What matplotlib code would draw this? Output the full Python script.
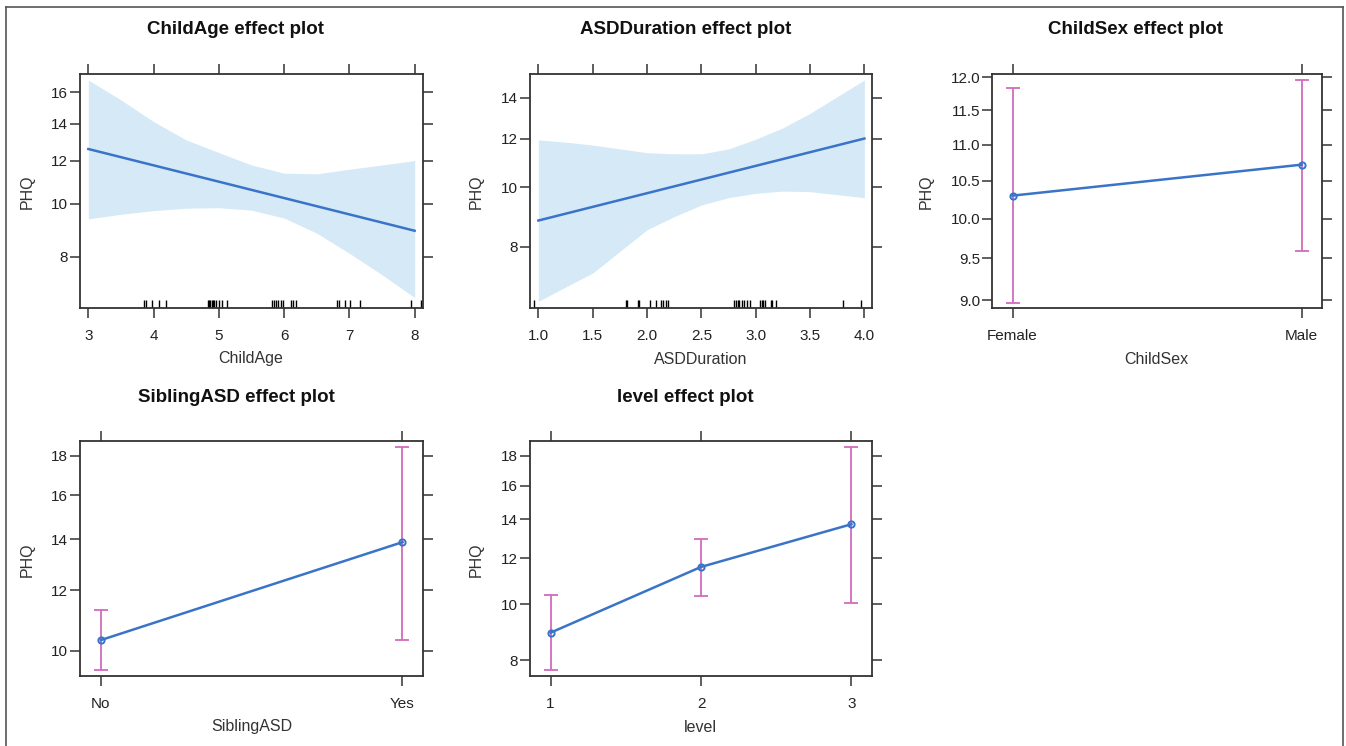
import matplotlib
matplotlib.use('Agg')
import matplotlib.pyplot as plt
from matplotlib.ticker import FixedLocator, FixedFormatter, NullLocator
from matplotlib.lines import Line2D

plt.rcParams['font.family'] = ['Liberation Sans', 'DejaVu Sans']

# ---------------- data ----------------
# ChildAge effect
age_x = [3.0, 3.5, 4.0, 4.5, 5.0, 5.5, 6.0, 6.5, 7.0, 7.5, 8.0]
age_upper = [16.85, 15.49, 14.14, 13.09, 12.41, 11.78, 11.38, 11.35, 11.57, 11.78, 12.0]
age_lower = [9.39, 9.57, 9.72, 9.82, 9.84, 9.74, 9.42, 8.84, 8.12, 7.42, 6.74]
age_fit_x = [3.0, 8.0]
age_fit = [12.6, 8.93]
age_rug = [3.85, 3.88, 3.98, 4.09, 4.19, 4.83, 4.85, 4.87, 4.89, 4.91, 4.93,
           4.96, 5.0, 5.05, 5.12, 5.81, 5.84, 5.88, 5.91, 5.95, 5.98,
           6.10, 6.14, 6.18, 6.81, 6.84, 6.94, 7.01, 7.16, 7.94, 8.10]

# ASDDuration effect
dur_x = [1.0, 1.25, 1.5, 2.0, 2.25, 2.5, 2.75, 3.0, 3.25, 3.5, 4.0]
dur_upper = [11.95, 11.85, 11.72, 11.39, 11.34, 11.34, 11.55, 11.98, 12.5, 13.2, 14.96]
dur_lower = [6.52, 6.88, 7.25, 8.53, 8.96, 9.36, 9.62, 9.78, 9.86, 9.84, 9.62]
dur_fit_x = [1.0, 4.0]
dur_fit = [8.83, 12.01]
dur_rug = [0.96, 1.81, 1.82, 1.92, 1.93, 2.03, 2.08, 2.13, 2.15, 2.17, 2.19,
           2.80, 2.82, 2.84, 2.85, 2.87, 2.89, 2.92, 2.95,
           3.04, 3.06, 3.07, 3.09, 3.14, 3.15, 3.19, 3.80, 3.97]

# ChildSex effect
sex_cats = ['Female', 'Male']
sex_fit = [10.30, 10.72]
sex_lower = [8.97, 9.59]
sex_upper = [11.83, 11.96]

# SiblingASD effect
sib_cats = ['No', 'Yes']
sib_fit = [10.33, 13.88]
sib_lower = [9.43, 10.32]
sib_upper = [11.32, 18.51]

# level effect
lev_cats = ['1', '2', '3']
lev_fit = [8.93, 11.59, 13.73]
lev_lower = [7.69, 10.32, 10.04]
lev_upper = [10.38, 12.96, 18.68]

# ---------------- style ----------------
W, H = 1346, 746
fig = plt.figure(figsize=(W / 100, H / 100), dpi=100)

LINE = '#3a74c8'
BAND = '#d6e9f7'
ERR = '#d06cbc'
FRAME = '#333333'


def px_axes(x0, y0, x1, y1):
    return fig.add_axes([x0 / W, 1 - y1 / H, (x1 - x0) / W, (y1 - y0) / H])


def ftext(x, y, s, **kw):
    fig.text(x / W, 1 - y / H, s, **kw)


def style(ax, yticks, ylabels, xticks, xlabels, xlim, ylim):
    ax.set_yscale('log')
    ax.set_xlim(xlim)
    ax.set_ylim(ylim)
    ax.yaxis.set_major_locator(FixedLocator(yticks))
    ax.yaxis.set_major_formatter(FixedFormatter(ylabels))
    ax.yaxis.set_minor_locator(NullLocator())
    ax.set_xticks(xticks)
    ax.set_xticklabels(xlabels)
    ax.tick_params(axis='both', direction='out', length=7, width=1.1, color=FRAME,
                   top=True, right=True, labelsize=11, labelcolor='#222222')
    ax.tick_params(axis='x', pad=8)
    ax.tick_params(axis='y', pad=1.5)
    for s in ax.spines.values():
        s.set_color(FRAME)
        s.set_linewidth(1.3)


def titles(tx, ty, title, lx, ly, xlabel, px, py):
    ftext(tx, ty, title, ha='center', va='center', fontsize=13.5, fontweight='bold', color='#111111')
    ftext(lx, ly, xlabel, ha='center', va='center', fontsize=11.5, color='#333333')
    ftext(px, py, 'PHQ', ha='center', va='center', fontsize=11.5, color='#333333', rotation=90)


def rug(ax, vals):
    ax.vlines(vals, 0, 0.035, transform=ax.get_xaxis_transform(), color='black', lw=1.0)


# Panel 1: ChildAge
ax1 = px_axes(80, 74, 423, 308)
ax1.fill_between(age_x, age_lower, age_upper, color=BAND, lw=0)
ax1.plot(age_fit_x, age_fit, color=LINE, lw=1.8)
rug(ax1, age_rug)
style(ax1, [8, 10, 12, 14, 16], ['8', '10', '12', '14', '16'],
      [3, 4, 5, 6, 7, 8], ['3', '4', '5', '6', '7', '8'], (2.872, 8.128), (6.45, 17.28))
titles(236, 29, 'ChildAge effect plot', 251, 359, 'ChildAge', 27, 192)

# Panel 2: ASDDuration
ax2 = px_axes(530, 74, 872, 308)
ax2.fill_between(dur_x, dur_lower, dur_upper, color=BAND, lw=0)
ax2.plot(dur_fit_x, dur_fit, color=LINE, lw=1.8)
rug(ax2, dur_rug)
style(ax2, [8, 10, 12, 14], ['8', '10', '12', '14'],
      [1.0, 1.5, 2.0, 2.5, 3.0, 3.5, 4.0], ['1.0', '1.5', '2.0', '2.5', '3.0', '3.5', '4.0'],
      (0.923, 4.07), (6.36, 15.3))
titles(686, 29, 'ASDDuration effect plot', 701, 359, 'ASDDuration', 476, 192)


def cat_panel(ax, cats, fit, lower, upper):
    xs = list(range(1, len(cats) + 1))
    ax.errorbar(xs, fit, yerr=[[f - l for f, l in zip(fit, lower)], [u - f for f, u in zip(fit, upper)]],
                fmt='none', ecolor=ERR, elinewidth=1.3, capsize=5, capthick=1.3, zorder=2)
    ax.plot(xs, fit, color=LINE, lw=1.8, marker='o', ms=4.5, mfc='none', mec=LINE, mew=1.4, zorder=3)
    return xs


# Panel 3: ChildSex
ax3 = px_axes(992, 74, 1322, 308)
xs = cat_panel(ax3, sex_cats, sex_fit, sex_lower, sex_upper)
style(ax3, [9.0, 9.5, 10.0, 10.5, 11.0, 11.5, 12.0],
      ['9.0', '9.5', '10.0', '10.5', '11.0', '11.5', '12.0'],
      xs, sex_cats, (0.929, 2.07), (8.91, 12.05))
titles(1135, 29, 'ChildSex effect plot', 1156, 359, 'ChildSex', 926, 192)

# Panel 4: SiblingASD
ax4 = px_axes(80, 441, 423, 676)
xs = cat_panel(ax4, sib_cats, sib_fit, sib_lower, sib_upper)
style(ax4, [10, 12, 14, 16, 18], ['10', '12', '14', '16', '18'],
      xs, sib_cats, (0.931, 2.068), (9.27, 18.83))
titles(236, 397, 'SiblingASD effect plot', 252, 727, 'SiblingASD', 27, 560)

# Panel 5: level
ax5 = px_axes(530, 441, 872, 676)
xs = cat_panel(ax5, lev_cats, lev_fit, lev_lower, lev_upper)
style(ax5, [8, 10, 12, 14, 16, 18], ['8', '10', '12', '14', '16', '18'],
      xs, lev_cats, (0.863, 3.137), (7.52, 19.1))
titles(685, 397, 'level effect plot', 700, 727, 'level', 476, 560)

# outer frame of the figure
for (xa, ya, xb, yb) in [(6, 7, 1343, 7), (6, 7, 6, 746), (1343, 7, 1343, 746)]:
    fig.add_artist(Line2D([xa / W, xb / W], [1 - ya / H, 1 - yb / H], color='#555555', lw=1.2,
                          transform=fig.transFigure))

fig.savefig('out.png', dpi=100)
